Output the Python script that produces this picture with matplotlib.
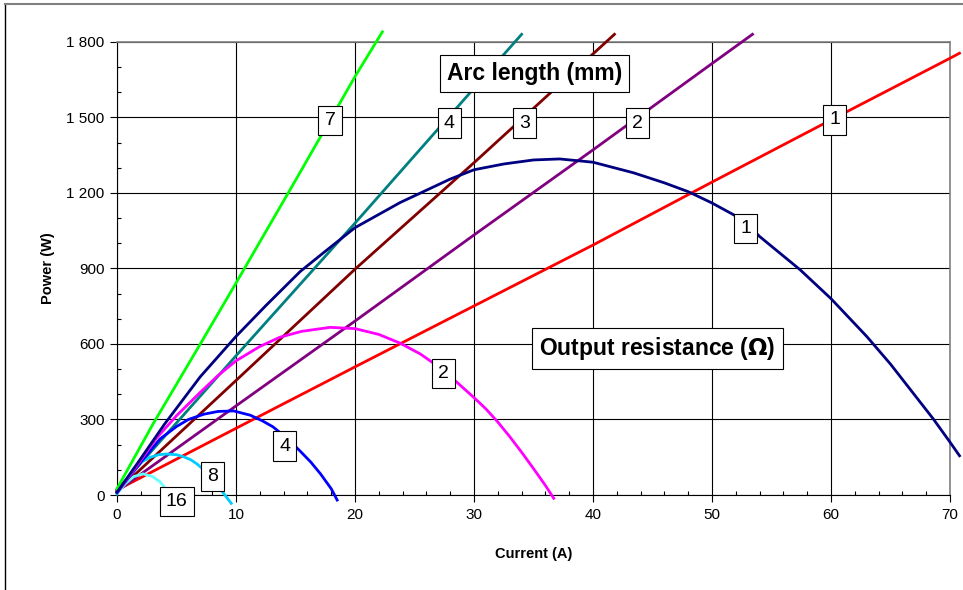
#!/usr/bin/env python3

import matplotlib
matplotlib.use('Agg')
import matplotlib.pyplot as plt  # type: ignore
from matplotlib.lines import Line2D  # type: ignore
from matplotlib.ticker import FuncFormatter, MultipleLocator  # type: ignore

plt.rcParams['font.family'] = ['Liberation Sans', 'DejaVu Sans']

# Arc length lines (mm): current (A) vs power (W)
arc_1_i = [0, 10, 20, 30, 40, 50, 60, 70, 70.8]
arc_1_p = [20, 265, 509, 751, 993, 1243, 1490, 1735, 1755]
arc_2_i = [0, 10, 20, 30, 40, 50, 53.4]
arc_2_p = [15, 354, 691, 1033, 1371, 1714, 1830]
arc_3_i = [0, 10, 20, 30, 41.8]
arc_3_p = [15, 455, 897, 1320, 1830]
arc_4_i = [0, 10, 20, 34.0]
arc_4_p = [20, 553, 1080, 1830]
arc_7_i = [0, 3, 7, 10, 15, 20, 22.3]
arc_7_p = [25, 280, 600, 842, 1250, 1662, 1840]

# Output resistance curves (ohm)
res_1_i = [0, 2, 4, 7, 10, 12.5, 15.4, 17.5, 20, 23.8, 28, 30, 32.5, 35,
           37.2, 40, 43.4, 46, 48, 50, 52.6, 54, 57.4, 60, 63, 65, 68.6,
           70, 70.8]
res_1_p = [10, 145, 282, 470, 630, 752, 888, 968, 1062, 1162, 1255, 1292,
           1315, 1331, 1335, 1322, 1280, 1240, 1205, 1160, 1093, 1027, 895,
           780, 630, 520, 302, 210, 156]
res_2_i = [0, 1.5, 3.3, 5, 7, 8.5, 10, 12, 13.7, 15.5, 17.9, 20, 22, 23.8,
           25.5, 27.4, 28.7, 30, 31, 32, 33, 34, 35, 36, 36.7]
res_2_p = [10, 105, 225, 315, 408, 475, 533, 590, 627, 650, 666, 661, 638,
           603, 560, 497, 442, 387, 342, 290, 232, 170, 105, 38, -13]
res_4_i = [0, 2, 3.6, 5, 6, 7.3, 8.5, 9.8, 11.2, 12.2, 13.1, 14.3, 15.4,
           16.3, 17.1, 18, 18.5]
res_4_p = [10, 130, 222, 272, 300, 321, 332, 334, 317, 295, 271, 225, 174,
           130, 84, 25, -20]
res_8_i = [0, 0.7, 1.4, 2, 2.8, 3.5, 4.2, 5, 5.6, 6.2, 6.7, 7.3, 7.8, 8.4,
           8.9, 9.6]
res_8_p = [5, 55, 105, 130, 150, 160, 163, 160, 152, 140, 124, 100, 75, 42,
           10, -33]
res_16_i = [0, 0.7, 1.4, 2.2, 3.0, 3.6, 4.3]
res_16_p = [5, 45, 73, 84, 73, 53, 12]

arc_lines = [
    (arc_1_i, arc_1_p, '#ff0000', '1', (60.3, 1490)),
    (arc_2_i, arc_2_p, '#800080', '2', (43.75, 1477)),
    (arc_3_i, arc_3_p, '#800000', '3', (34.23, 1477)),
    (arc_4_i, arc_4_p, '#008080', '4', (27.93, 1477)),
    (arc_7_i, arc_7_p, '#00ff00', '7', (17.9, 1487)),
]
res_curves = [
    (res_16_i, res_16_p, '#66ffff', '16', (5.02, -26)),
    (res_8_i, res_8_p, '#00ccff', '8', (8.03, 73)),
    (res_4_i, res_4_p, '#0000ff', '4', (14.08, 194)),
    (res_2_i, res_2_p, '#ff00ff', '2', (27.42, 482)),
    (res_1_i, res_1_p, '#000080', '1', (52.84, 1058)),
]


def thousands(v, pos):
    return f'{int(v):,}'.replace(',', ' ')


fig = plt.figure(figsize=(9.63, 5.90), dpi=100)
ax = fig.add_axes([0.1215, 0.161, 0.865, 0.768])

box = dict(boxstyle='square,pad=0.32', fc='white', ec='black', lw=0.8)

for xs, ys, color, lab, pos in arc_lines + res_curves:
    ax.plot(xs, ys, color=color, lw=2.0, clip_on=False, zorder=3,
            solid_joinstyle='round')
    ax.text(pos[0], pos[1], lab, ha='center', va='center', fontsize=14,
            bbox=box, zorder=5)

big_box = dict(boxstyle='square,pad=0.3', fc='white', ec='black', lw=0.8)
ax.text(35.06, 1675, 'Arc length (mm)', ha='center', va='center',
        fontsize=16.5, fontweight='bold', bbox=big_box, zorder=5)
ax.text(45.42, 583, r'Output resistance ($\mathbf{\Omega}$)', ha='center',
        va='center', fontsize=16.5, fontweight='bold', bbox=big_box, zorder=5)

ax.set_xlim(0, 70)
ax.set_ylim(0, 1800)
ax.xaxis.set_major_locator(MultipleLocator(10))
ax.xaxis.set_minor_locator(MultipleLocator(2))
ax.yaxis.set_major_locator(MultipleLocator(300))
ax.yaxis.set_minor_locator(MultipleLocator(100))
ax.yaxis.set_major_formatter(FuncFormatter(thousands))
ax.tick_params(which='major', direction='out', length=5, width=0.8,
               labelsize=11, pad=4)
ax.tick_params(which='minor', direction='in', length=3, width=0.8)
ax.grid(True, which='major', color='black', lw=0.8, zorder=1)
ax.set_axisbelow(True)

for side in ['left', 'bottom']:
    ax.spines[side].set_color('black')
for side in ['top', 'right']:
    ax.spines[side].set_color('#808080')
    ax.spines[side].set_linewidth(1.2)

ax.set_xlabel('Current (A)', fontsize=10.5, fontweight='bold', labelpad=18)
ax.set_ylabel('Power (W)', fontsize=10.5, fontweight='bold', labelpad=8)

# outer chart border (only left and top visible in the original)
fig.add_artist(Line2D([5 / 963, 5 / 963], [0, 1 - 4 / 590], color='black',
                      lw=1.0))
fig.add_artist(Line2D([5 / 963, 1], [1 - 4 / 590, 1 - 4 / 590],
                      color='#808080', lw=1.5))

fig.savefig('out.png', dpi=100)
